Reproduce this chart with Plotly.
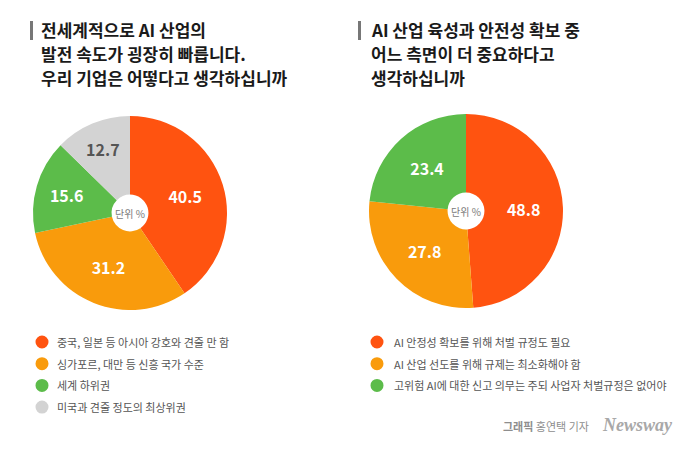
import plotly.graph_objects as go

# ---- data ----
left_title = ["전세계적으로 AI 산업의", "발전 속도가 굉장히 빠릅니다.", "우리 기업은 어떻다고 생각하십니까"]
left_labels = ["중국, 일본 등 아시아 강호와 견줄 만 함", "싱가포르, 대만 등 신흥 국가 수준", "세계 하위권", "미국과 견줄 정도의 최상위권"]
left_values = [40.5, 31.2, 15.6, 12.7]

right_title = ["AI 산업 육성과 안전성 확보 중", "어느 측면이 더 중요하다고", "생각하십니까"]
right_labels = ["AI 안정성 확보를 위해 처벌 규정도 필요", "AI 산업 선도를 위해 규제는 최소화해야 함", "고위험 AI에 대한 신고 의무는 주되 사업자 처벌규정은 없어야"]
right_values = [48.8, 27.8, 23.4]

unit_text = "단위 %"
credit_bold = "그래픽"
credit_rest = "홍연택 기자"
brand = "Newsway"

# ---- style ----
W, H = 700, 450
FONT = "Noto Sans CJK KR"
left_colors = ["#FF5310", "#F99B0C", "#5CBC4A", "#D3D3D3"]
right_colors = ["#FF5310", "#F99B0C", "#5CBC4A"]
left_textcolors = ["white", "white", "white", "#555555"]
right_textcolors = ["white", "white", "white"]

def px_x(x):
    return x / W

def px_y(y):
    return 1 - y / H

fig = go.Figure()

def add_pie(values, labels, colors, tcolors, cx, cy, r):
    fig.add_trace(go.Pie(
        values=values, labels=labels, sort=False, direction="clockwise", rotation=0,
        hole=0.19, marker=dict(colors=colors, line=dict(width=0)),
        texttemplate="%{value}", textposition="inside", insidetextorientation="horizontal",
        textfont=dict(family=FONT, size=16, color=tcolors, weight="bold"),
        domain=dict(x=[px_x(cx - r), px_x(cx + r)], y=[px_y(cy + r), px_y(cy - r)]),
        showlegend=False, hoverinfo="label+value",
    ))

add_pie(left_values, left_labels, left_colors, left_textcolors, 130, 213, 97)
add_pie(right_values, right_labels, right_colors, right_textcolors, 466, 211, 97)

annotations = []
shapes = []

def add_title(lines, x, y0, barx):
    for i, t in enumerate(lines):
        annotations.append(dict(
            text=f"<b>{t}</b>", x=px_x(x), y=px_y(y0 + i * 23.5), xref="paper", yref="paper",
            xanchor="left", yanchor="middle", showarrow=False,
            font=dict(family=FONT, size=17, color="#1A1A1A")))
    shapes.append(dict(type="rect", xref="paper", yref="paper",
                       x0=px_x(barx), x1=px_x(barx + 3), y0=px_y(40), y1=px_y(21),
                       fillcolor="#777777", line=dict(width=0)))

add_title(left_title, 39, 30, 30)
add_title(right_title, 369, 30, 358)

def add_legend(labels, colors, cx, tx, y0):
    for i, (lab, c) in enumerate(zip(labels, colors)):
        y = y0 + i * 21.7
        shapes.append(dict(type="circle", xref="paper", yref="paper",
                           x0=px_x(cx - 6.5), x1=px_x(cx + 6.5), y0=px_y(y + 6.5), y1=px_y(y - 6.5),
                           fillcolor=c, line=dict(width=0)))
        annotations.append(dict(
            text=lab, x=px_x(tx), y=px_y(y), xref="paper", yref="paper",
            xanchor="left", yanchor="middle", showarrow=False,
            font=dict(family=FONT, size=11, color="#555555")))

add_legend(left_labels, left_colors, 42, 55, 342)
add_legend(right_labels, right_colors, 377, 392, 342)

for cx, cy in [(130, 213), (466, 211)]:
    annotations.append(dict(text=unit_text, x=px_x(cx), y=px_y(cy), xref="paper", yref="paper",
                            xanchor="center", yanchor="middle", showarrow=False,
                            font=dict(family=FONT, size=10, color="#7A7A7A")))

annotations.append(dict(text=f"<b>{credit_bold}</b> {credit_rest}", x=px_x(591), y=px_y(426), xref="paper", yref="paper",
                        xanchor="right", yanchor="middle", showarrow=False,
                        font=dict(family=FONT, size=11, color="#8E8E8E")))
annotations.append(dict(text=f"<b><i>{brand}</i></b>", x=px_x(600), y=px_y(425), xref="paper", yref="paper",
                        xanchor="left", yanchor="middle", showarrow=False,
                        font=dict(family="Liberation Serif", size=18, color="#A8A8A8")))

fig.update_layout(
    width=W, height=H, margin=dict(l=0, r=0, t=0, b=0),
    paper_bgcolor="white", plot_bgcolor="white",
    annotations=annotations, shapes=shapes,
)

fig.write_html("out.html", config={"displayModeBar": False},
               post_script="document.body.style.margin='0';")
